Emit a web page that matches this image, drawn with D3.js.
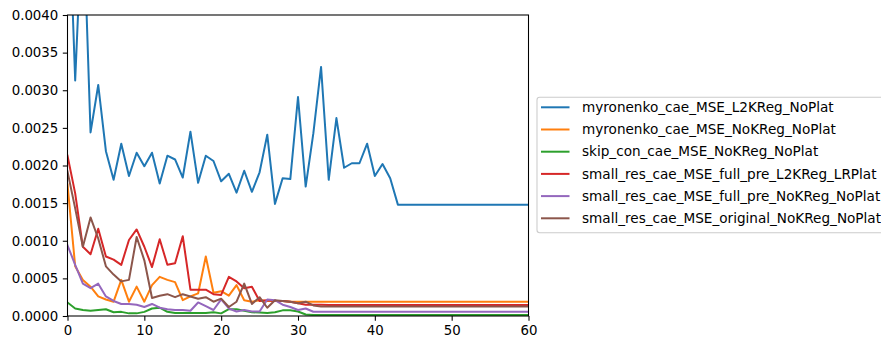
<!DOCTYPE html>
<html>
<head>
<meta charset="utf-8">
<script src="https://cdn.jsdelivr.net/npm/d3@7"></script>
<style>
  body { margin: 0; background: #fff; }
  svg { display: block; font-family: "DejaVu Sans", sans-serif; }
</style>
</head>
<body>
<svg width="881" height="338"></svg>
<script>
// series names, in legend order
var seriesNames = [
    "myronenko_cae_MSE_L2KReg_NoPlat",
    "myronenko_cae_MSE_NoKReg_NoPlat",
    "skip_con_cae_MSE_NoKReg_NoPlat",
    "small_res_cae_MSE_full_pre_L2KReg_LRPlat",
    "small_res_cae_MSE_full_pre_NoKReg_NoPlat",
    "small_res_cae_MSE_original_NoKReg_NoPlat"
];

// values per epoch (0..60)
var myronenkoL2 = [0.0060, 0.00313, 0.0055, 0.00244, 0.00307, 0.00219, 0.00181, 0.00229, 0.00186, 0.00217,
    0.00199, 0.00217, 0.00176, 0.00213, 0.00208, 0.00184, 0.00245, 0.00177, 0.00213, 0.00206,
    0.00179, 0.00189, 0.00164, 0.00193, 0.00165, 0.00191, 0.00241, 0.00149, 0.00183, 0.00182,
    0.00291, 0.00172, 0.00243, 0.00331, 0.00181, 0.00263, 0.00197, 0.00203, 0.00203, 0.00229,
    0.00186, 0.00202, 0.00183, 0.00148, 0.00148, 0.00148, 0.00148, 0.00148, 0.00148, 0.00148,
    0.00148, 0.00148, 0.00148, 0.00148, 0.00148, 0.00148, 0.00148, 0.00148, 0.00148, 0.00148,
    0.00148];
var myronenkoNo = [0.00175, 0.00066, 0.00048, 0.00039, 0.00026, 0.00022, 0.00019, 0.00048, 0.00019, 0.00039,
    0.00019, 0.00041, 0.00052, 0.00048, 0.00045, 0.00021, 0.00026, 0.00030, 0.00079, 0.00031,
    0.00033, 0.00027, 0.00041, 0.00021, 0.00019, 0.00021, 0.00020, 0.00020, 0.00020, 0.00019,
    0.00019, 0.00019, 0.00019, 0.00019, 0.00019, 0.00019, 0.00019, 0.00019, 0.00019, 0.00019,
    0.00019, 0.00019, 0.00019, 0.00019, 0.00019, 0.00019, 0.00019, 0.00019, 0.00019, 0.00019,
    0.00019, 0.00019, 0.00019, 0.00019, 0.00019, 0.00019, 0.00019, 0.00019, 0.00019, 0.00019,
    0.00019];
var skipCon = [0.00018, 0.00010, 0.00008, 0.00007, 0.00008, 0.00009, 0.00005, 0.000055, 0.000035, 0.000035,
    0.000055, 0.00010, 0.00011, 0.000055, 0.00004, 0.00004, 0.00004, 0.00004, 0.00004, 0.00005,
    0.000035, 0.00009, 0.00009, 0.00007, 0.00005, 0.000045, 0.00004, 0.00005, 0.000075, 0.000075,
    0.00006, 0.00002, 0.000012, 0.000012, 0.000012, 0.000012, 0.000012, 0.000012, 0.000012, 0.000012,
    0.000012, 0.000012, 0.000012, 0.000012, 0.000012, 0.000012, 0.000012, 0.000012, 0.000012, 0.000012,
    0.000012, 0.000012, 0.000012, 0.000012, 0.000012, 0.000012, 0.000012, 0.000012, 0.000012, 0.000012,
    0.000012];
var smallResL2 = [0.00213, 0.00163, 0.00092, 0.00082, 0.00116, 0.00079, 0.00075, 0.00068, 0.00101, 0.00115,
    0.00092, 0.00065, 0.00102, 0.00068, 0.00070, 0.00106, 0.00035, 0.00035, 0.00035, 0.00029,
    0.00028, 0.00052, 0.00046, 0.00037, 0.00039, 0.00020, 0.00021, 0.00020, 0.00020, 0.00019,
    0.00017, 0.00015, 0.00015, 0.00015, 0.000145, 0.000145, 0.000145, 0.000145, 0.000145, 0.000145,
    0.000145, 0.000145, 0.000145, 0.000145, 0.000145, 0.000145, 0.000145, 0.000145, 0.000145, 0.000145,
    0.000145, 0.000145, 0.000145, 0.000145, 0.000145, 0.000145, 0.000145, 0.000145, 0.000145, 0.000145,
    0.000145];
var smallResNo = [0.00094, 0.00068, 0.00043, 0.00037, 0.00043, 0.00026, 0.00020, 0.00016, 0.00016, 0.00015,
    0.00012, 0.00016, 0.00011, 0.00009, 0.00008, 0.00008, 0.00007, 0.00018, 0.00013, 0.00008,
    0.00022, 0.00010, 0.00006, 0.00008, 0.00006, 0.00006, 0.00022, 0.00021, 0.00015, 0.00012,
    0.00008, 0.00010, 0.000057, 0.000057, 0.000057, 0.000057, 0.000057, 0.000057, 0.000057, 0.000057,
    0.000057, 0.000057, 0.000057, 0.000057, 0.000057, 0.000057, 0.000057, 0.000057, 0.000057, 0.000057,
    0.000057, 0.000057, 0.000057, 0.000057, 0.000057, 0.000057, 0.000057, 0.000057, 0.000057, 0.000057,
    0.000057];
var smallResOrig = [0.00192, 0.00143, 0.00092, 0.00131, 0.00103, 0.00066, 0.00055, 0.00046, 0.00048, 0.00105,
    0.00074, 0.00024, 0.00027, 0.00029, 0.00025, 0.00029, 0.00026, 0.00023, 0.00025, 0.00019,
    0.00023, 0.00012, 0.00019, 0.00043, 0.00016, 0.00025, 0.00011, 0.00021, 0.00020, 0.00019,
    0.00017, 0.00019, 0.00014, 0.000125, 0.000125, 0.000125, 0.000125, 0.000125, 0.000125, 0.000125,
    0.000125, 0.000125, 0.000125, 0.000125, 0.000125, 0.000125, 0.000125, 0.000125, 0.000125, 0.000125,
    0.000125, 0.000125, 0.000125, 0.000125, 0.000125, 0.000125, 0.000125, 0.000125, 0.000125, 0.000125,
    0.000125];

var xTicks = [0, 10, 20, 30, 40, 50, 60];
var yTicks = [0, 0.0005, 0.001, 0.0015, 0.002, 0.0025, 0.003, 0.0035, 0.004];

(function () {
    var svg = d3.select("svg");
    var left = 67.5, right = 528.5, top = 15, bottom = 316;
    var colors = ["#1f77b4", "#ff7f0e", "#2ca02c", "#d62728", "#9467bd", "#8c564b"];
    var allSeries = [myronenkoL2, myronenkoNo, skipCon, smallResL2, smallResNo, smallResOrig];

    var x = d3.scaleLinear().domain([0, 60]).range([left, right]);
    var y = d3.scaleLinear().domain([0, 0.004]).range([bottom, top]);

    svg.append("clipPath").attr("id", "plotclip")
        .append("rect")
        .attr("x", left).attr("y", top)
        .attr("width", right - left).attr("height", bottom - top);

    var line = d3.line()
        .x(function (d, i) { return x(i); })
        .y(function (d) { return y(d); });

    svg.append("g")
        .attr("clip-path", "url(#plotclip)")
        .selectAll("path")
        .data(allSeries)
        .enter().append("path")
        .attr("d", line)
        .attr("fill", "none")
        .attr("stroke", function (d, i) { return colors[i]; })
        .attr("stroke-width", 2)
        .attr("stroke-linejoin", "round")
        .attr("stroke-linecap", "square");

    var xAxis = svg.append("g")
        .attr("transform", "translate(0," + bottom + ")")
        .call(d3.axisBottom(x).tickValues(xTicks).tickFormat(d3.format("d"))
            .tickSize(4.7).tickPadding(4.5).tickSizeOuter(0));
    var yAxis = svg.append("g")
        .attr("transform", "translate(" + left + ",0)")
        .call(d3.axisLeft(y).tickValues(yTicks).tickFormat(d3.format(".4f"))
            .tickSize(4.7).tickPadding(4.5).tickSizeOuter(0));

    [xAxis, yAxis].forEach(function (a) {
        a.select(".domain").remove();
        a.selectAll("line").attr("stroke", "#000").attr("stroke-width", 1.07);
        a.selectAll("text")
            .attr("fill", "#000")
            .style("font-size", "13.33px")
            .style("font-family", "'DejaVu Sans', sans-serif");
    });

    svg.append("rect")
        .attr("x", left).attr("y", top)
        .attr("width", right - left).attr("height", bottom - top)
        .attr("fill", "none")
        .attr("stroke", "#000")
        .attr("stroke-width", 1.07);

    // legend, runs past the right edge like the reference
    var lg = svg.append("g");
    lg.append("rect")
        .attr("x", 537).attr("y", 97.3)
        .attr("width", 400).attr("height", 135.4)
        .attr("rx", 2.7)
        .attr("fill", "#fff").attr("fill-opacity", 0.8)
        .attr("stroke", "#cccccc").attr("stroke-width", 1.07);

    var rows = lg.selectAll(".row")
        .data(seriesNames)
        .enter().append("g")
        .attr("class", "row")
        .attr("transform", function (d, i) { return "translate(0," + (107.3 + i * 22.2) + ")"; });

    rows.append("line")
        .attr("x1", 541).attr("x2", 569.5)
        .attr("stroke", function (d, i) { return colors[i]; })
        .attr("stroke-width", 2);

    rows.append("text")
        .attr("x", 582)
        .attr("dy", "0.35em")
        .style("font-size", "13.6px")
        .attr("fill", "#000")
        .text(function (d) { return d; });
}());
</script>
</body>
</html>
